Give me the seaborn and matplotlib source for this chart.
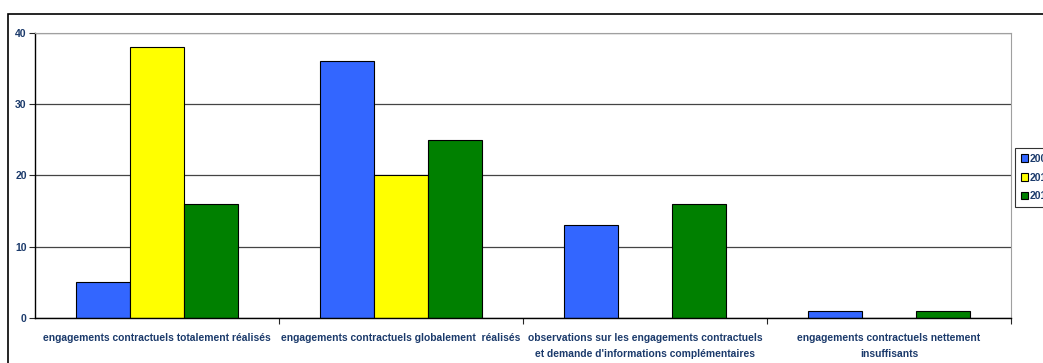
import pandas as pd
import seaborn as sns
import matplotlib.pyplot as plt
from matplotlib.patches import Rectangle

categories = ["engagements contractuels totalement réalisés",
              "engagements contractuels globalement  réalisés",
              "observations sur les engagements contractuels\net demande d'informations complémentaires",
              "engagements contractuels nettement\ninsuffisants"]
years = ["2009", "2010", "2011"]
v2009 = [5, 36, 13, 1]
v2010 = [38, 20, 0, 0]
v2011 = [16, 25, 16, 1]

df = pd.DataFrame({
    "categorie": categories * 3,
    "annee": [y for y in years for _ in categories],
    "valeur": v2009 + v2010 + v2011,
})

sns.set_style("white")
plt.rcParams['font.family'] = ['Liberation Sans', 'DejaVu Sans']
navy = "#1b3a6b"

fig = plt.figure(figsize=(10.43, 3.63), dpi=100)
ax = fig.add_axes([35/1043, 45/363, (1011-35)/1043, (318-33)/363])

sns.barplot(data=df, x="categorie", y="valeur", hue="annee",
            palette=["#3366ff", "#ffff00", "#008000"], saturation=1,
            width=0.66, edgecolor="black", linewidth=0.8, ax=ax, legend=True)

ax.set_ylim(0, 40)
ax.set_xlim(-0.5, 3.5)
ax.set_yticks([0, 10, 20, 30, 40])
ax.yaxis.grid(True, color="#444444", linewidth=0.9)
ax.set_axisbelow(True)
ax.set_xlabel("")
ax.set_ylabel("")

for s in ["top", "right"]:
    ax.spines[s].set_color("#a0a0a0")
for s in ["left", "bottom"]:
    ax.spines[s].set_color("black")
    ax.spines[s].set_linewidth(1.0)

ax.tick_params(axis="y", length=4, width=0.8, direction="out", left=True,
               labelsize=7.5, labelcolor=navy, pad=2)
ax.tick_params(axis="x", which="major", length=0, labelsize=7.4,
               labelcolor=navy, pad=11)
ax.set_xticks([0.5, 1.5, 2.5, 3.5], minor=True)
ax.tick_params(axis="x", which="minor", length=4, width=0.8, direction="out", bottom=True)
for lab in ax.get_xticklabels() + ax.get_yticklabels():
    lab.set_fontweight("bold")
for lab in ax.get_xticklabels():
    lab.set_multialignment("center")
    lab.set_linespacing(1.7)

leg = ax.legend(loc="upper left", bbox_to_anchor=(1015/1043, (363-148)/363),
                bbox_transform=fig.transFigure, frameon=True, fancybox=False,
                fontsize=7.5, handlelength=0.7, handleheight=0.7,
                handletextpad=0.2, labelspacing=0.85, borderpad=0.55,
                borderaxespad=0)
leg.get_frame().set_edgecolor("black")
leg.get_frame().set_linewidth(0.8)
for t in leg.get_texts():
    t.set_color(navy)
    t.set_fontweight("bold")

fig.patches.append(Rectangle((8/1043, -0.2), 2, (363-14)/363 + 0.2,
                             transform=fig.transFigure, fill=False,
                             edgecolor="black", linewidth=1.2))

fig.savefig("out.png", dpi=100)
